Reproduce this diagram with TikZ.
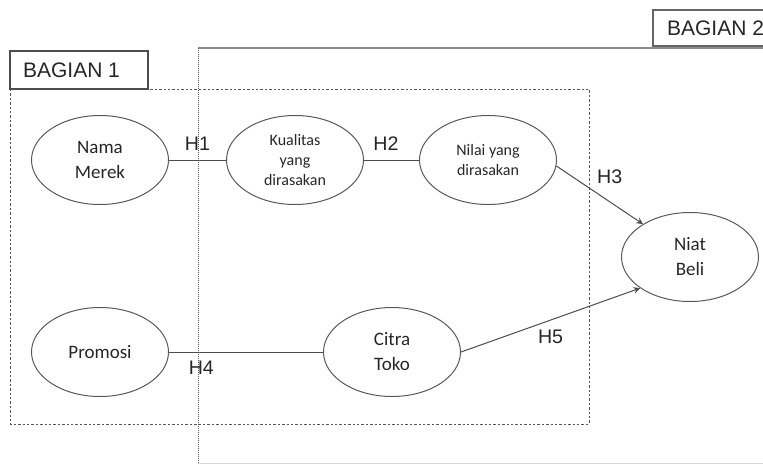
\documentclass[tikz,border=0pt]{standalone}
\usepackage{fontspec}
\setmainfont{Liberation Sans}
\newfontfamily\calibri{Carlito}
\usepackage{xcolor}
\usetikzlibrary{arrows,shapes}

\begin{document}
\begin{tikzpicture}[x=0.5pt,y=-0.5pt,>=stealth,
        var/.style={ellipse,draw=black!65,line width=0.5pt,minimum width=68.5pt,minimum height=44.5pt,
            inner sep=0pt,align=center,text=black!85,font=\calibri\fontsize{9.5}{12.5}\selectfont},
        small/.style={font=\calibri\fontsize{8}{10}\selectfont},
        hyp/.style={text=black!85,font=\fontsize{9.8}{11}\selectfont},
        link/.style={draw=black!70,line width=0.5pt},
        part/.style={text=black!85,font=\fontsize{10.5}{12}\selectfont}]
        \useasboundingbox (0,0) rectangle (763,465);
        % bagian 1
        \draw[black!65,line width=0.5pt,dash pattern=on 1.2pt off 1pt] (10,89) rectangle (589,424);
        \draw[black!70,line width=0.6pt] (10,89) rectangle (148,51);
        \node[part,anchor=west] (bag1) at (16,70) {BAGIAN 1};
        % bagian 2
        \draw[black!45,line width=0.6pt] (198,48) -- (770,48);
        \draw[black!65,line width=0.4pt,dash pattern=on 0.6pt off 0.4pt] (198,48) -- (198,463);
        \draw[black!15,line width=0.5pt] (198,463) -- (770,463);
        \draw[black!60,line width=0.6pt] (770,10) -- (653,10) -- (653,46) -- (770,46);
        \node[part,anchor=west] (bag2) at (660,28) {BAGIAN 2};

        \node[var] (nama) at (100,160) {Nama\\Merek};
        \node[var,small] (kualitas) at (295,160) {Kualitas\\yang\\dirasakan};
        \node[var,small] (nilai) at (488,160) {Nilai yang\\dirasakan};
        \node[var] (niat) at (690,257) {Niat\\Beli};
        \node[var] (promosi) at (100,352) {Promosi};
        \node[var] (citra) at (392,352) {Citra\\Toko};

        \draw[link] (nama) -- node[hyp,above=1pt] (h1) {H1} (kualitas);
        \draw[link] (kualitas) -- node[hyp,above=1pt,pos=0.4] (h2) {H2} (nilai);
        \draw[link,->] (nilai.-5) -- node[hyp,pos=0.5,above=2pt,xshift=5pt] (h3) {H3} (niat.145);
        \draw[link] (promosi) -- node[hyp,below=1pt,pos=0.21] (h4) {H4} (citra);
        \draw[link,->] (citra.east) -- node[hyp,pos=0.5,below=1.5pt] (h5) {H5} (niat.212);
    \end{tikzpicture}
\end{document}
